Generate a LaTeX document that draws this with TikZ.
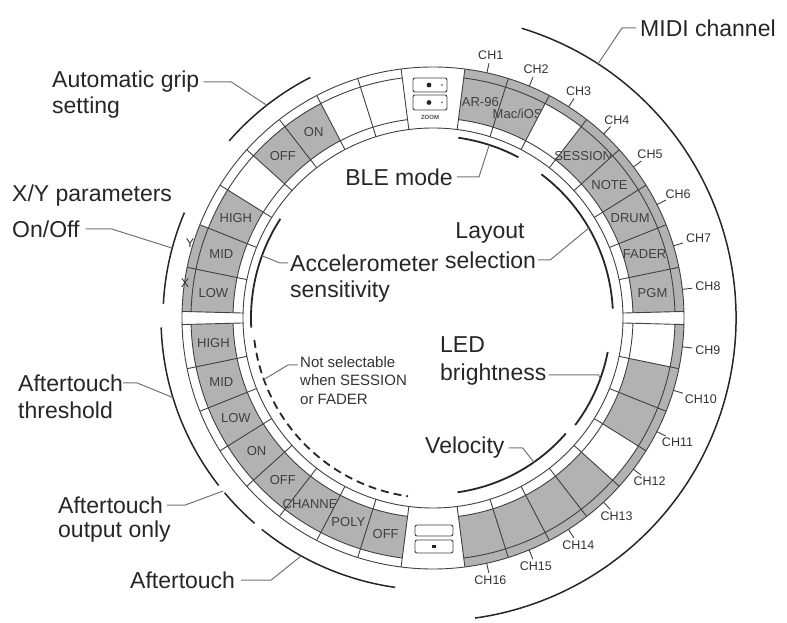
\documentclass[tikz,border=0pt]{standalone}
\usepackage{fontspec}
\setmainfont{Liberation Sans}
\usepackage{tikz}

\tikzset{
  ring/.style={draw=black!75,line width=0.9pt},
  fnarc/.style={draw=black!85,line width=1.8pt},
  grparc/.style={draw=black!85,line width=1.5pt},
  lead/.style={draw=black!55,line width=1pt},
  big/.style={font=\fontsize{23}{27}\selectfont,text=black!85},
  small/.style={font=\fontsize{15}{18.5}\selectfont,text=black!80,align=left},
  padtxt/.style={font=\fontsize{13}{15}\selectfont,text=black!75},
  chtxt/.style={font=\fontsize{12.5}{14}\selectfont,text=black!80},
}
\newcommand\padsector[3]{\fill[fill=black!#3] (#1:200) arc[start angle=#1,end angle=#2,radius=200]
  -- (#2:242) arc[start angle=#2,end angle=#1,radius=242] -- cycle;}
\newcommand\stripsector[2]{\fill[black!30] (#1:242) arc[start angle=#1,end angle=#2,radius=242]
  -- (#2:251) arc[start angle=#2,end angle=#1,radius=251] -- cycle;}

\begin{document}
\begin{tikzpicture}[x=1pt,y=1pt,every node/.style={inner sep=0pt}]
\useasboundingbox (-433,-305) rectangle (354,318);
% pads, right side
\foreach \f/\t [count=\i from 0] in {30/AR-96,30/{Mac/iOS},0/,30/SESSION,30/NOTE,30/DRUM,30/FADER,30/PGM}{
  \pgfmathsetmacro\a{82.7-10.15*\i}\pgfmathsetmacro\b{\a-10.15}\pgfmathsetmacro\c{\a-5.075}
  \padsector{\a}{\b}{\f}
  \node[padtxt] at (\c:221) {\t};}
\foreach \f [count=\i from 0] in {0,30,30,0,30,30,30,30}{
  \pgfmathsetmacro\a{-1.5-10.15*\i}\pgfmathsetmacro\b{\a-10.15}
  \padsector{\a}{\b}{\f}}
% pads, left side
\foreach \f/\t [count=\i from 0] in {0/,0/,30/ON,30/OFF,0/,30/HIGH,30/MID,30/LOW}{
  \pgfmathsetmacro\a{97.3+10.15*\i}\pgfmathsetmacro\b{\a+10.15}\pgfmathsetmacro\c{\a+5.075}
  \padsector{\a}{\b}{\f}
  \node[padtxt] at (\c:221) {\t};}
\foreach \t [count=\i from 0] in {HIGH,MID,LOW,ON,OFF,CHANNEL,POLY,OFF}{
  \pgfmathsetmacro\a{181.5+10.15*\i}\pgfmathsetmacro\b{\a+10.15}\pgfmathsetmacro\c{\a+5.075}
  \padsector{\a}{\b}{30}
  \node[padtxt] at (\c:221) {\t};}
% channel strips
\stripsector{1.5}{82.7}
\stripsector{-1.5}{-82.7}
\stripsector{158.2}{178.5}
% ring lines
\draw[ring] (0,0) circle (251);
\draw[ring] (0,0) circle (190);
\foreach \s/\e in {1.5/82.7,-1.5/-82.7,97.3/178.5,181.5/262.7}{
  \draw[ring] (\s:242) arc[start angle=\s,end angle=\e,radius=242];
  \draw[ring] (\s:200) arc[start angle=\s,end angle=\e,radius=200];}
\foreach \k in {0,...,8}{
  \draw[ring] ({82.7-10.15*\k}:190) -- ({82.7-10.15*\k}:251);
  \draw[ring] ({-1.5-10.15*\k}:190) -- ({-1.5-10.15*\k}:251);
  \draw[ring] ({97.3+10.15*\k}:190) -- ({97.3+10.15*\k}:251);
  \draw[ring] ({181.5+10.15*\k}:190) -- ({181.5+10.15*\k}:251);}
% X and Y marks
\node[chtxt] (ymark) at (-243,75) {Y};
\node[chtxt] (xmark) at (-248,35) {X};
% channel labels
\foreach \n in {1,...,8}{
  \pgfmathsetmacro\c{77.6-10.15*(\n-1)}
  \draw[ring] (\c:251) -- (\c:261);
  \node[chtxt,anchor=\c+180] (ch\n) at (\c:264) {CH\n};}
\foreach \n in {9,...,16}{
  \pgfmathsetmacro\c{-6.6-10.15*(\n-9)}
  \draw[ring] (\c:251) -- (\c:261);
  \node[chtxt,anchor=\c+180] (ch\n) at (\c:264) {CH\n};}
% modules
\draw[ring,rounded corners=2pt] (-20,226) rectangle (14,240);
\draw[ring,rounded corners=2pt] (-20,208) rectangle (14,223);
\fill[black!85] (-4,233) circle (2.4) (-4,215.5) circle (2.4);
\fill[black!60] (9,233) circle (1) (9,215.5) circle (1);
\node[font=\bfseries\fontsize{6}{6}\selectfont,text=black!70] (logo) at (-3,201) {ZOOM};
\draw[ring,rounded corners=2pt] (-18,-218) rectangle (20,-207);
\draw[ring,rounded corners=2pt] (-18,-235) rectangle (20,-222);
\fill[black!85] (-1,-230) rectangle (3,-227);
% function arcs inside
\draw[fnarc] (62:182) arc[start angle=62,end angle=82,radius=182];
\draw[fnarc] (3:180) arc[start angle=3,end angle=53,radius=180];
\draw[fnarc] (-11:178) arc[start angle=-11,end angle=-37,radius=178];
\draw[fnarc] (-41:176) arc[start angle=-41,end angle=-82,radius=176];
\draw[fnarc] (147:182) arc[start angle=147,end angle=183,radius=182];
\draw[fnarc,dash pattern=on 8pt off 5pt] (187:180) arc[start angle=187,end angle=262,radius=180];
% function arcs outside
\draw[grparc] (117:270) arc[start angle=117,end angle=139,radius=270];
\draw[grparc] (157:270) arc[start angle=157,end angle=177,radius=270];
\draw[grparc] (182:272) arc[start angle=182,end angle=218,radius=272];
\draw[grparc] (220:272) arc[start angle=220,end angle=229,radius=272];
\draw[grparc] (231:272) arc[start angle=231,end angle=262,radius=272];
\draw[grparc] (73:303) arc[start angle=73,end angle=-82,radius=303];
% connector ends
\coordinate (midipt) at (57:303);
\coordinate (grippt) at (128:270);
\coordinate (xypt) at (165:270);
\coordinate (threspt) at (197:272);
\coordinate (outpt) at (219.5:272);
\coordinate (atpt) at (241:272);
\coordinate (accpt) at (160:182);
\coordinate (notept) at (200:180);
\coordinate (blept) at (72:182);
\coordinate (layoutpt) at (30:180);
\coordinate (ledpt) at (-20:178);
\coordinate (velpt) at (-55:176);
% labels
\node[big,anchor=west] (midi) at (207,290) {MIDI channel};
\node[big,anchor=west] (grip) at (-381,236) {Automatic grip};
\node[big,anchor=west] (grip2) at (-381,210) {setting};
\node[big,anchor=west] (xy) at (-421,122) {X/Y parameters};
\node[big,anchor=west] (xy2) at (-421,89) {On/Off};
\node[big,anchor=west] (thres) at (-415,-65) {Aftertouch};
\node[big,anchor=west] (thres2) at (-415,-92) {threshold};
\node[big,anchor=west] (outonly) at (-375,-187) {Aftertouch};
\node[big,anchor=west] (outonly2) at (-375,-214) {output only};
\node[big,anchor=west] (at) at (-303,-262) {Aftertouch};
\node[big,anchor=west] (acc) at (-143,55) {Accelerometer};
\node[big,anchor=west] (acc2) at (-143,26) {sensitivity};
\node[small,anchor=north west] (note) at (-133,-38) {Not selectable\\when SESSION\\or FADER};
\node[big,anchor=east] (ble) at (20,141) {BLE mode};
\node[big] (layout) at (57,85) {Layout};
\node[big,anchor=west] (layout2) at (12,58) {selection};
\node[big,anchor=west] (led) at (7,-27) {LED};
\node[big,anchor=west] (led2) at (7,-57) {brightness};
\node[big,anchor=west] (vel) at (-8,-130) {Velocity};
% connectors
\draw[lead] ([xshift=-4pt]midi.west) -- ++(-14,0) -- (midipt);
\draw[lead] ([xshift=4pt]grip.east) -- ++(28,0) -- (grippt);
\draw[lead] ([xshift=6pt]xy2.east) -- ++(26,0) -- (xypt);
\draw[lead] (thres.east) -- ++(14,0) -- (threspt);
\draw[lead] ([xshift=4pt]outonly.east) -- ++(18,0) -- (outpt);
\draw[lead] ([xshift=6pt]at.east) -- ++(30,0) -- (atpt);
\draw[lead] ([xshift=-2pt]acc.west) -- ++(-8,0) -- (accpt);
\draw[lead] ([xshift=-2pt,yshift=-9pt]note.north west) -- ++(-10,0) -- (notept);
\draw[lead] ([xshift=4pt]ble.east) -- ++(22,0) -- (blept);
\draw[lead] ([xshift=2pt]layout2.east) -- ++(12,0) -- (layoutpt);
\draw[lead] ([xshift=2pt]led2.east) -- ++(50,0) -- (ledpt);
\draw[lead] ([xshift=4pt]vel.east) -- ++(14,0) -- (velpt);
\end{tikzpicture}
\end{document}
